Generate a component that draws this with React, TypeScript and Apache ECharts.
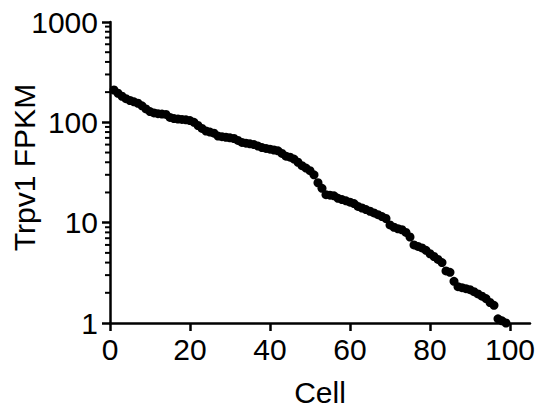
import React, { useEffect, useRef } from "react";
import * as echarts from "echarts";

// Trpv1 FPKM per cell, sorted descending (cell 1 .. 99)
const cellValues: number[] = [
  210, 195, 182, 172, 165, 160, 155, 146, 136, 128,
  124, 122, 121, 120, 112, 109, 108, 107, 106, 104,
  100, 93, 87, 82, 80, 78, 73, 72, 71, 70,
  69, 66, 63, 62, 61, 60, 58, 56, 55, 54,
  53, 52, 49, 46, 45, 43, 40, 37, 35, 33,
  30, 25, 22, 19, 18.8, 18.5, 17.5, 17, 16.5, 16,
  15.5, 14.5, 14, 13.5, 13, 12.5, 12, 11.5, 11, 9.5,
  9, 8.7, 8.5, 8, 7.2, 6, 5.8, 5.6, 5.3, 4.9,
  4.6, 4.3, 4.0, 3.3, 3.2, 2.6, 2.3, 2.25, 2.2, 2.15,
  2.05, 1.95, 1.85, 1.75, 1.6, 1.5, 1.1, 1.05, 1.0,
];

const xTickValues: number[] = [0, 20, 40, 60, 80, 100];
const yMajorTicks: number[] = [1, 10, 100, 1000];
const yMinorMultipliers: number[] = [2, 3, 4, 5, 6, 7, 8, 9];
const xTitle = "Cell";
const yTitle = "Trpv1 FPKM";

export default function App() {
  const ref = useRef<HTMLDivElement>(null);

  useEffect(() => {
    if (!ref.current) return;
    const chart = echarts.init(ref.current, null, { renderer: "svg" });
    const font = "'Liberation Sans', Arial, sans-serif";
    const black = "#000000";

    // minor log ticks (2..9 within each decade), drawn at x = 0 on the log y scale
    const minorTickData: number[][] = [];
    for (let d = 0; d < yMajorTicks.length - 1; d++) {
      for (const m of yMinorMultipliers) {
        minorTickData.push([0, m * yMajorTicks[d]]);
      }
    }

    const data = cellValues.map((v, i) => [i + 1, v]);

    chart.setOption({
      animation: false,
      backgroundColor: "#ffffff",
      grid: {
        left: 110,
        right: 10,
        top: 22,
        bottom: 89,
        containLabel: false,
        outerBoundsMode: "none",
      },
      graphic: [
        {
          type: "text",
          x: 24.5,
          y: 167.5,
          rotation: Math.PI / 2,
          silent: true,
          style: {
            text: yTitle,
            fontFamily: font,
            fontSize: 30,
            fill: black,
            textAlign: "center",
            textVerticalAlign: "middle",
          },
        },
      ],
      xAxis: {
        type: "value",
        min: 0,
        max: 105,
        name: xTitle,
        nameLocation: "middle",
        nameGap: 54,
        nameTextStyle: { fontFamily: font, fontSize: 30, color: black },
        axisLine: { show: true, lineStyle: { color: black, width: 2.5 } },
        axisTick: {
          show: true,
          customValues: xTickValues,
          length: 8,
          lineStyle: { color: black, width: 2.5 },
        },
        axisLabel: {
          customValues: xTickValues,
          margin: 11,
          fontFamily: font,
          fontSize: 30,
          color: black,
        },
        splitLine: { show: false },
      },
      yAxis: {
        type: "log",
        logBase: 10,
        min: 1,
        max: 1000,
        axisLine: { show: true, lineStyle: { color: black, width: 2.5 } },
        axisTick: { show: true, length: 8, lineStyle: { color: black, width: 2.5 } },
        axisLabel: {
          margin: 12,
          fontFamily: font,
          fontSize: 30,
          color: black,
          formatter: (v: number) => String(Math.round(v)),
        },
        splitLine: { show: false },
      },
      series: [
        {
          type: "scatter",
          name: "minorTicks",
          data: minorTickData,
          symbol: "rect",
          symbolSize: [5, 2],
          symbolOffset: [-2.5, 0],
          clip: false,
          silent: true,
          z: 1,
          itemStyle: { color: black, opacity: 1 },
        },
        {
          type: "scatter",
          name: "Trpv1",
          data,
          symbol: "circle",
          symbolSize: 9,
          clip: false,
          z: 3,
          itemStyle: { color: black, opacity: 1 },
        },
      ],
    });

    return () => chart.dispose();
  }, []);

  return (
    <div
      ref={ref}
      style={{ position: "absolute", left: 0, top: 0, width: 540, height: 412 }}
    />
  );
}
